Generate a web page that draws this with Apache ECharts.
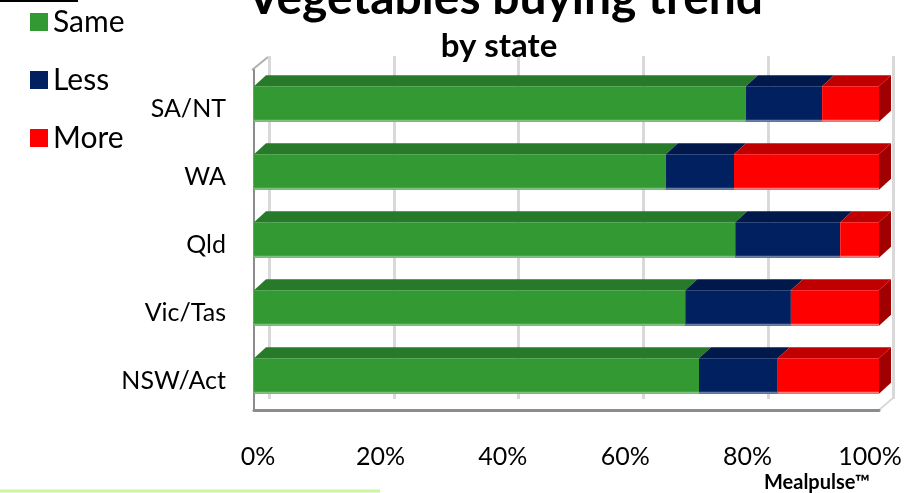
<!DOCTYPE html>
<html><head><meta charset="utf-8">
<script src="https://cdn.jsdelivr.net/npm/echarts@6/dist/echarts.min.js"></script>
<style>html,body{margin:0;padding:0;background:#fff}#c{width:924px;height:493px}</style>
</head><body><div id="c"></div>
<script>
const categories = ['SA/NT', 'WA', 'Qld', 'Vic/Tas', 'NSW/Act'];
const seriesNames = ['Same', 'Less', 'More'];
const same = [78.7, 65.9, 77.0, 69.0, 71.2];
const less = [12.2, 10.9, 16.8, 16.9, 12.6];
const more = [9.1, 23.2, 6.2, 14.1, 16.2];
const tickValues = [0, 20, 40, 60, 80, 100];

const FONT = 'Lato';
const valuesBySeries = [same, less, more];
const faces = [
  { front: '#339933', top: '#267a29', side: '#1f6321', strip: '#7fc07f' },
  { front: '#002060', top: '#00194a', side: '#00123a', strip: '#6a7fa8' },
  { front: '#ff0000', top: '#c00000', side: '#a00000', strip: '#ff7a7a' }
];
const DX = 12, DY = 11;

function buildData(k) {
  return categories.map((c, i) => {
    let start = 0;
    for (let j = 0; j < k; j++) start += valuesBySeries[j][i];
    return [start, start + valuesBySeries[k][i], i];
  });
}

function makeRender(k) {
  const f = faces[k];
  const isLast = k === valuesBySeries.length - 1;
  return function (params, api) {
    const s = api.coord([api.value(0), api.value(2)]);
    const e = api.coord([api.value(1), api.value(2)]);
    const bh = api.size([0, 1])[1] * 0.52;
    const top = s[1] - bh / 2, bot = s[1] + bh / 2;
    const x0 = s[0], x1 = e[0];
    const children = [
      { type: 'polygon', shape: { points: [[x0, top], [x1, top], [x1 + DX, top - DY], [x0 + DX, top - DY]] },
        style: { fill: f.top } },
      { type: 'rect', shape: { x: x0, y: top, width: x1 - x0, height: bh }, style: { fill: f.front } },
      { type: 'rect', shape: { x: x0, y: bot - 2, width: x1 - x0, height: 2 }, style: { fill: f.strip } }
    ];
    if (isLast) {
      children.push({ type: 'polygon', shape: { points: [[x1, top], [x1 + DX, top - DY], [x1 + DX, bot - DY], [x1, bot]] },
        style: { fill: f.side } });
    }
    return { type: 'group', children };
  };
}

const chart = echarts.init(document.getElementById('c'), null, { renderer: 'canvas' });
const gridA = { left: 254, right: 45, top: 70, bottom: 83 };
chart.setOption({
  animation: false,
  backgroundColor: '#ffffff',
  title: [
    { text: 'Vegetables buying trend', left: 500, top: -30, textAlign: 'center',
      textStyle: { fontFamily: FONT, fontWeight: 'bold', fontSize: 48, color: '#000' } },
    { text: 'by state', left: 494, top: 25, textAlign: 'center',
      textStyle: { fontFamily: FONT, fontWeight: 'bold', fontSize: 33, color: '#000' } },
    { text: 'Mealpulse™', left: 812, top: 468, textAlign: 'center',
      textStyle: { fontFamily: FONT, fontWeight: 'bold', fontSize: 20, color: '#000' } }
  ],
  legend: {
    orient: 'vertical', left: 25, top: 2, itemWidth: 18, itemHeight: 18, itemGap: 28,
    icon: 'rect', data: seriesNames,
    textStyle: { fontFamily: FONT, fontSize: 30, color: '#000', lineHeight: 30, padding: [0, 0, 0, 0] }
  },
  grid: [
    gridA,
    { left: 269, right: 31, top: 56, bottom: 94 },
    { left: 258, right: 54, top: 70, bottom: 52 }
  ],
  xAxis: [
    { gridIndex: 0, type: 'value', min: 0, max: 100, interval: 20,
      axisLine: { show: true, lineStyle: { color: '#8c8c8c', width: 3 } },
      axisTick: { show: false }, axisLabel: { show: false }, splitLine: { show: false } },
    { gridIndex: 1, type: 'value', min: 0, max: 100, interval: 20,
      axisLine: { show: false }, axisTick: { show: false }, axisLabel: { show: false },
      splitLine: { show: true, lineStyle: { color: '#d9d9d9', width: 3 } } },
    { gridIndex: 2, type: 'value', min: 0, max: 100, interval: 20,
      axisLine: { show: false }, axisTick: { show: false }, splitLine: { show: false },
      axisLabel: { show: true, margin: 3, formatter: v => tickValues.includes(v) ? v + '%' : '',
        fontFamily: FONT, fontSize: 25, color: '#000' } }
  ],
  yAxis: [
    { gridIndex: 0, type: 'category', data: categories, inverse: true, offset: 2,
      axisLine: { show: true, lineStyle: { color: '#8c8c8c', width: 2 } },
      axisTick: { show: false }, splitLine: { show: false },
      axisLabel: { margin: 26, formatter: v => '{c|' + v + '}',
        rich: { c: { fontFamily: FONT, fontSize: 25, color: '#000', padding: [9, 0, 0, 0] } } } },
    { gridIndex: 1, type: 'value', show: false, min: 0, max: 1, splitLine: { show: false } },
    { gridIndex: 2, type: 'value', show: false, min: 0, max: 1, splitLine: { show: false } }
  ],
  series: seriesNames.map((name, k) => ({
    name, type: 'custom', xAxisIndex: 0, yAxisIndex: 0,
    itemStyle: { color: faces[k].front },
    encode: { x: [0, 1], y: 2 },
    renderItem: makeRender(k),
    data: buildData(k)
  })),
  graphic: [
    { type: 'polyline', shape: { points: [[252, 70], [268, 57]] }, style: { stroke: '#b0b0b0', lineWidth: 2 }, silent: true },
    { type: 'polyline', shape: { points: [[879, 410], [893, 398]] }, style: { stroke: '#d9d9d9', lineWidth: 2 }, silent: true },
    { type: 'line', shape: { x1: 0, y1: 1, x2: 78, y2: 1 }, style: { stroke: '#000', lineWidth: 2 }, silent: true },
    { type: 'line', shape: { x1: 0, y1: 491, x2: 380, y2: 491 }, style: { stroke: '#ccf5a0', lineWidth: 3 }, silent: true }
  ]
});
</script></body></html>
